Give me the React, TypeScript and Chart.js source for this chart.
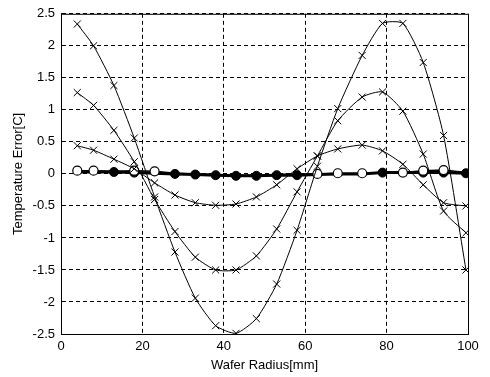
import React, { useEffect, useRef } from "react";
import { Chart, registerables } from "chart.js";

Chart.register(...registerables);

const radius = [4, 8, 13, 18, 23, 28, 33, 38, 43, 48, 53, 58, 63, 68, 74, 79, 84, 89, 94, 99.5];
const errLarge = [2.34, 2.0, 1.38, 0.56, -0.36, -1.22, -1.94, -2.37, -2.49, -2.26, -1.72, -0.88, 0.12, 1.02, 1.85, 2.35, 2.35, 1.74, 0.6, -1.5];
const errMedium = [1.27, 1.07, 0.68, 0.19, -0.4, -0.9, -1.3, -1.5, -1.5, -1.28, -0.86, -0.28, 0.28, 0.83, 1.2, 1.28, 0.98, 0.31, -0.58, -0.92];
const errSmall = [0.44, 0.37, 0.23, 0.08, -0.14, -0.33, -0.45, -0.49, -0.47, -0.36, -0.17, 0.08, 0.28, 0.39, 0.45, 0.36, 0.15, -0.17, -0.45, -0.5];
const errOpen = [0.05, 0.05, 0.04, 0.05, 0.04, 0.01, 0.0, -0.01, -0.02, -0.02, -0.01, 0.0, 0.0, 0.01, 0.01, 0.02, 0.02, 0.05, 0.06, 0.02];
const errFilled = [0.03, 0.03, 0.03, 0.02, 0.01, 0.0, -0.01, -0.02, -0.03, -0.03, -0.02, -0.02, -0.01, 0.0, 0.0, 0.02, 0.02, 0.02, 0.02, 0.01];
const filledVisible = [0, 0, 1, 1, 0, 1, 1, 1, 1, 1, 1, 1, 0, 0, 0, 1, 0, 1, 1, 1];
const openVisible = [1, 1, 0, 1, 1, 0, 0, 0, 0, 0, 0, 0, 1, 1, 1, 0, 1, 1, 1, 0];
const xTicks = [0, 20, 40, 60, 80, 100];
const yTicks = [-2.5, -2, -1.5, -1, -0.5, 0, 0.5, 1, 1.5, 2, 2.5];

const FONT = "'Liberation Sans', Arial, sans-serif";

const pts = (ys: number[]) => ys.map((y, i) => ({ x: radius[i], y }));

const boxPlugin = {
  id: "box",
  afterDraw(chart: any) {
    const { ctx, chartArea } = chart;
    ctx.save();
    ctx.strokeStyle = "#000";
    ctx.lineWidth = 1;
    ctx.setLineDash([]);
    ctx.strokeRect(chartArea.left + 0.5, chartArea.top + 0.5, chartArea.right - chartArea.left, chartArea.bottom - chartArea.top);
    ctx.restore();
  },
};

export default function App() {
  const ref = useRef<HTMLCanvasElement>(null);
  useEffect(() => {
    document.body.style.margin = "0";
    const crossDs = (data: number[]) => ({
      data: pts(data),
      borderColor: "#000",
      backgroundColor: "#000",
      borderWidth: 1,
      pointStyle: "crossRot" as const,
      pointRadius: 5,
      pointBorderWidth: 1,
      pointBorderColor: "#000",
      tension: 0.2,
    });
    const chart = new Chart(ref.current!, {
      type: "line",
      data: {
        datasets: [
          crossDs(errLarge),
          crossDs(errMedium),
          crossDs(errSmall),
          {
            data: pts(errOpen),
            borderColor: "#000",
            backgroundColor: "#fff",
            borderWidth: 1.5,
            pointStyle: "circle",
            pointRadius: openVisible.map((v) => (v ? 4.5 : 0)),
            pointBorderWidth: 1.2,
            pointBorderColor: "#000",
          },
          {
            data: pts(errFilled),
            borderColor: "#000",
            backgroundColor: "#000",
            borderWidth: 3,
            pointStyle: "circle",
            pointRadius: filledVisible.map((v) => (v ? 4.5 : 0)),
            pointBorderWidth: 1,
            pointBackgroundColor: "#000",
          },
        ],
      },
      options: {
        animation: false,
        responsive: false,
        maintainAspectRatio: false,
        layout: { padding: { top: 10, right: 22, left: 0, bottom: 0 } },
        plugins: { legend: { display: false }, tooltip: { enabled: false } },
        scales: {
          x: {
            type: "linear",
            min: 0,
            max: 100,
            afterBuildTicks: (s: any) => {
              s.ticks = xTicks.map((v) => ({ value: v }));
            },
            afterFit: (s: any) => {
              s.height = 43;
            },
            grid: { color: "#000", lineWidth: 1, drawTicks: false },
            border: { display: true, color: "#000", dash: [4, 3] },
            ticks: { color: "#000", font: { family: FONT, size: 13 }, padding: 5, maxRotation: 0 },
            title: {
              display: true,
              text: "Wafer Radius[mm]",
              color: "#000",
              font: { family: FONT, size: 13 },
              padding: { top: 0, bottom: 4 },
            },
          },
          y: {
            type: "linear",
            min: -2.5,
            max: 2.5,
            afterBuildTicks: (s: any) => {
              s.ticks = yTicks.map((v) => ({ value: v }));
            },
            afterFit: (s: any) => {
              s.width = 61;
            },
            grid: { color: "#000", lineWidth: 1, drawTicks: false },
            border: { display: true, color: "#000", dash: [4, 3] },
            ticks: {
              color: "#000",
              font: { family: FONT, size: 13 },
              padding: 6,
              callback: (v: any) => String(v),
            },
            title: {
              display: true,
              text: "Temperature Error[C]",
              color: "#000",
              font: { family: FONT, size: 13 },
              padding: { top: 11, bottom: 0 },
            },
          },
        },
      },
      plugins: [boxPlugin],
    });
    return () => chart.destroy();
  }, []);
  return (
    <div style={{ width: 490, height: 377, background: "#fff" }}>
      <canvas ref={ref} width={490} height={377} />
    </div>
  );
}
